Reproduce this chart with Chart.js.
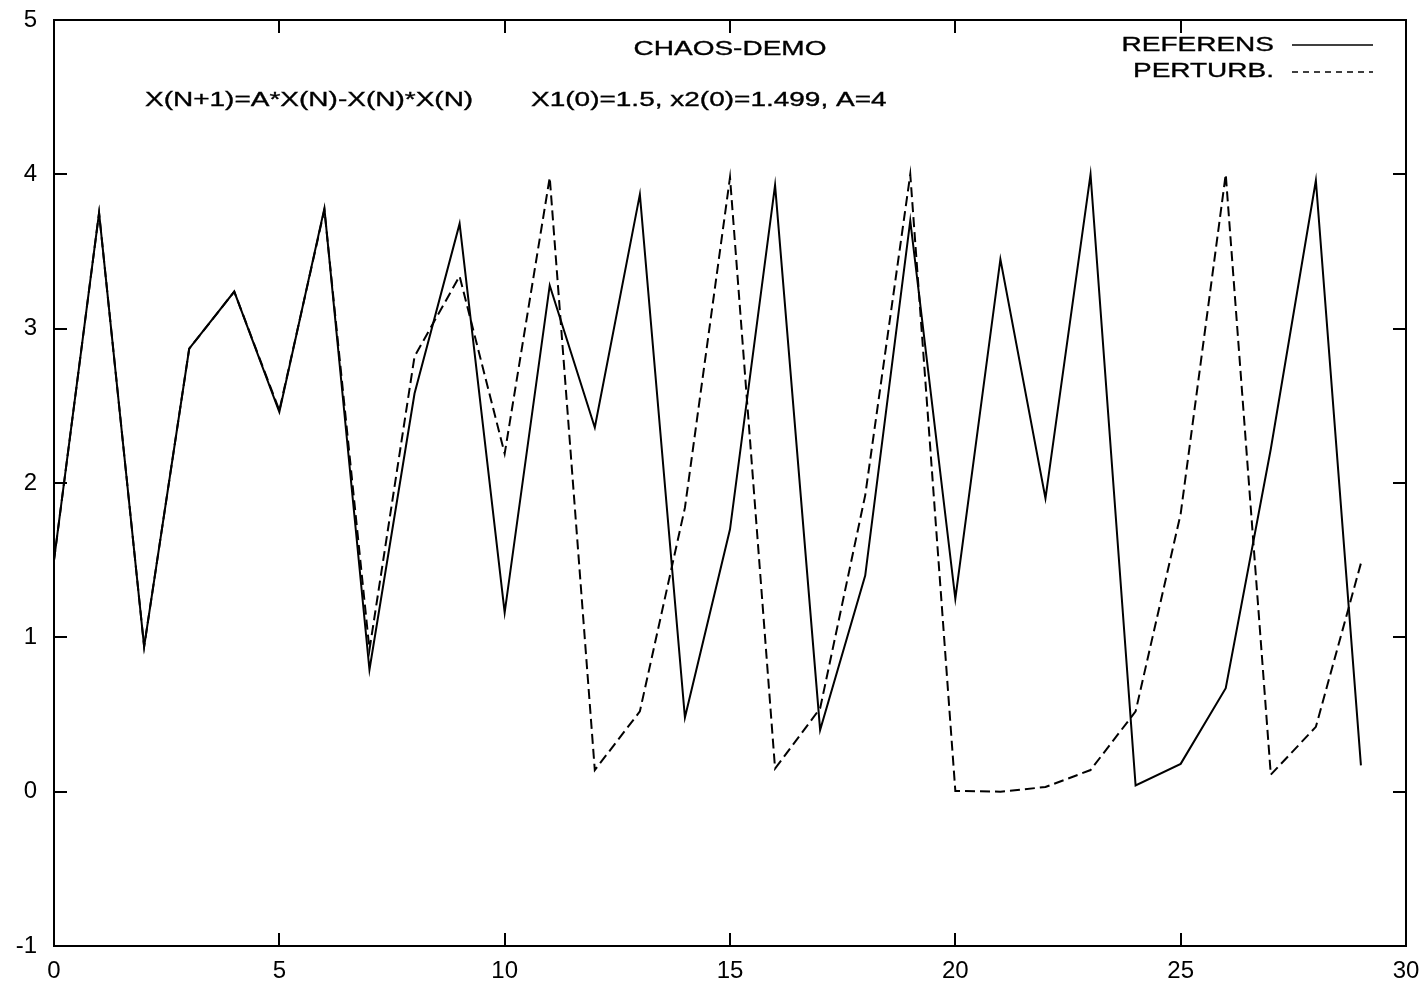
<!DOCTYPE html>
<html>
<head>
<meta charset="utf-8">
<title>CHAOS-DEMO</title>
<script src="https://cdn.jsdelivr.net/npm/chart.js@4/dist/chart.umd.min.js"></script>
<style>
  html, body { margin: 0; padding: 0; background: #fff; }
  #chaos { display: block; }
</style>
</head>
<body>
<canvas id="chaos" width="1424" height="988"></canvas>
<script>
var steps = [0, 1, 2, 3, 4, 5, 6, 7, 8, 9, 10, 11, 12, 13, 14, 15, 16, 17, 18, 19, 20, 21, 22, 23, 24, 25, 26, 27, 28, 29];
var referens = [1.5, 3.75, 0.94, 2.87, 3.24, 2.46, 3.78, 0.79, 2.58, 3.68, 1.16, 3.28, 2.36, 3.87, 0.48, 1.70, 3.93, 0.40, 1.40, 3.70, 1.25, 3.45, 1.90, 4.0, 0.04, 0.18, 0.67, 2.22, 3.96, 0.17];
var perturb = [1.499, 3.75, 0.94, 2.87, 3.24, 2.47, 3.77, 0.92, 2.82, 3.34, 2.19, 3.98, 0.14, 0.52, 1.84, 3.98, 0.15, 0.54, 1.92, 4.0, 0.005, 0.0, 0.03, 0.14, 0.52, 1.80, 4.0, 0.11, 0.42, 1.48];
var xTicks = [0, 5, 10, 15, 20, 25, 30];
var yTicks = [-1, 0, 1, 2, 3, 4, 5];
var titleText = "CHAOS-DEMO";
var formulaText = "X(N+1)=A*X(N)-X(N)*X(N)";
var initText = "X1(0)=1.5, x2(0)=1.499, A=4";
var seriesNames = ["REFERENS", "PERTURB."];

var FONT = '"Liberation Sans", Arial, sans-serif';
var STRETCH = 1.333; // the original lettering is wide

function toPoints(values) {
    return steps.map(function(n, i) { return { x: n, y: values[i] }; });
}

function wideText(ctx, text, x, y, align) {
    ctx.save();
    ctx.translate(x, y);
    ctx.scale(STRETCH, 1);
    ctx.font = '21px ' + FONT;
    ctx.fillStyle = '#000';
    ctx.strokeStyle = '#000';
    ctx.lineWidth = 0.35;
    ctx.textAlign = align;
    ctx.textBaseline = 'middle';
    ctx.fillText(text, 0, 0);
    ctx.strokeText(text, 0, 0);
    ctx.restore();
}

// labels hang outside the frame, don't let them push the plot area around
function noOverflow(scale) {
    scale.paddingTop = 0;
    scale.paddingBottom = 0;
    scale.paddingLeft = 0;
    scale.paddingRight = 0;
}

// frame with inward ticks on all four sides (gnuplot style)
var framePlugin = {
    id: 'frame',
    afterDatasetsDraw: function(chart) {
        var ctx = chart.ctx, a = chart.chartArea;
        var xs = chart.scales.x, ys = chart.scales.y;
        var len = 13;
        ctx.save();
        ctx.strokeStyle = '#000';
        ctx.lineWidth = 2;
        ctx.setLineDash([]);
        ctx.strokeRect(a.left, a.top, a.right - a.left, a.bottom - a.top);
        ctx.beginPath();
        xTicks.forEach(function(v) {
            var px = Math.round(xs.getPixelForValue(v));
            ctx.moveTo(px, a.bottom); ctx.lineTo(px, a.bottom - len);
            ctx.moveTo(px, a.top); ctx.lineTo(px, a.top + len);
        });
        yTicks.forEach(function(v) {
            var py = Math.round(ys.getPixelForValue(v));
            ctx.moveTo(a.left, py); ctx.lineTo(a.left + len, py);
            ctx.moveTo(a.right, py); ctx.lineTo(a.right - len, py);
        });
        ctx.stroke();
        ctx.restore();
    }
};

var labelPlugin = {
    id: 'labels',
    afterDraw: function(chart) {
        var ctx = chart.ctx;
        wideText(ctx, titleText, 730, 49, 'center');
        wideText(ctx, formulaText, 145, 100, 'left');
        wideText(ctx, initText, 531, 100, 'left');
        // key
        wideText(ctx, seriesNames[0], 1274, 45, 'right');
        wideText(ctx, seriesNames[1], 1274, 71, 'right');
        ctx.save();
        ctx.strokeStyle = '#000';
        ctx.lineWidth = 1.5;
        ctx.beginPath();
        ctx.moveTo(1292, 45); ctx.lineTo(1373, 45);
        ctx.stroke();
        ctx.setLineDash([6, 5]);
        ctx.beginPath();
        ctx.moveTo(1292, 72); ctx.lineTo(1373, 72);
        ctx.stroke();
        ctx.restore();
    }
};

new Chart(document.getElementById('chaos'), {
    type: 'line',
    data: {
        datasets: [
            {
                label: seriesNames[0],
                data: toPoints(referens),
                borderColor: '#000',
                borderWidth: 2,
                pointRadius: 0,
                tension: 0,
                fill: false
            },
            {
                label: seriesNames[1],
                data: toPoints(perturb),
                borderColor: '#000',
                borderWidth: 2,
                borderDash: [10, 5],
                pointRadius: 0,
                tension: 0,
                fill: false
            }
        ]
    },
    options: {
        responsive: false,
        animation: false,
        devicePixelRatio: 1,
        layout: { padding: { top: 20, right: 18, left: 0, bottom: 0 } },
        plugins: {
            legend: { display: false },
            title: { display: false },
            tooltip: { enabled: false }
        },
        scales: {
            x: {
                type: 'linear',
                min: 0,
                max: 30,
                afterBuildTicks: function(scale) {
                    scale.ticks = xTicks.map(function(v) { return { value: v }; });
                },
                afterFit: function(scale) { scale.height = 42; noOverflow(scale); },
                grid: { display: false, drawTicks: false },
                border: { display: false },
                ticks: {
                    color: '#000',
                    padding: 11,
                    maxRotation: 0,
                    font: { family: FONT, size: 24 }
                }
            },
            y: {
                min: -1,
                max: 5,
                afterBuildTicks: function(scale) {
                    scale.ticks = yTicks.map(function(v) { return { value: v }; });
                },
                afterFit: function(scale) { scale.width = 54; noOverflow(scale); },
                grid: { display: false, drawTicks: false },
                border: { display: false },
                ticks: {
                    color: '#000',
                    padding: 17,
                    font: { family: FONT, size: 24 }
                }
            }
        }
    },
    plugins: [framePlugin, labelPlugin]
});
</script>
</body>
</html>
